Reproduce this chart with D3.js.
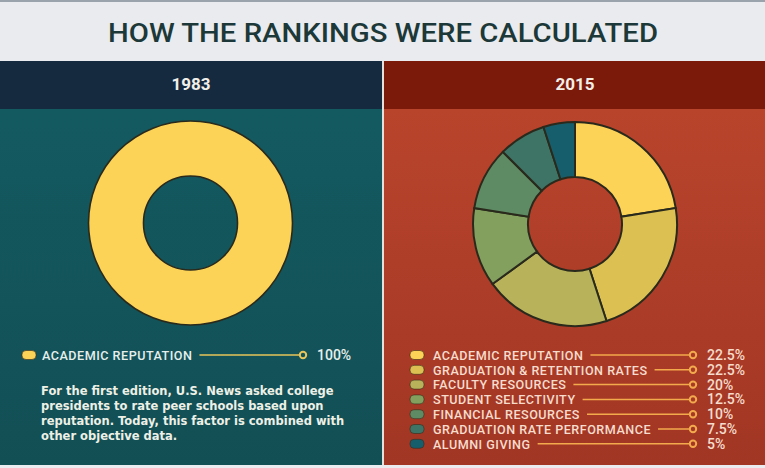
<!DOCTYPE html>
<html><head><meta charset="utf-8">
<script src="https://cdn.jsdelivr.net/npm/d3@7"></script>
<style>html,body{margin:0;padding:0;background:#e9ebee;}svg{display:block;}</style>
</head><body>
<svg id="c" width="765" height="468"></svg>
<script>
const title = "HOW THE RANKINGS WERE CALCULATED";
const years = ["1983", "2015"];
const cats1983 = ["ACADEMIC REPUTATION"];
const vals1983 = [100];
const labels1983 = ["100%"];
const cats2015 = ["ACADEMIC REPUTATION", "GRADUATION & RETENTION RATES", "FACULTY RESOURCES", "STUDENT SELECTIVITY", "FINANCIAL RESOURCES", "GRADUATION RATE PERFORMANCE", "ALUMNI GIVING"];
const vals2015 = [22.5, 22.5, 20, 12.5, 10, 7.5, 5];
const labels2015 = ["22.5%", "22.5%", "20%", "12.5%", "10%", "7.5%", "5%"];
const colors2015 = ["#fdd357", "#dcc152", "#b8b35b", "#83a05f", "#5e8b63", "#3e7466", "#175e6c"];
const note = ["For the first edition, U.S. News asked college", "presidents to rate peer schools based upon", "reputation. Today, this factor is combined with", "other objective data."];

const svg = d3.select("#c");
const defs = svg.append("defs");
const gL = defs.append("linearGradient").attr("id","gl").attr("x1",0).attr("y1",0).attr("x2",0).attr("y2",1);
gL.append("stop").attr("offset","0").attr("stop-color","#135a60");
gL.append("stop").attr("offset","1").attr("stop-color","#124f55");
const gR = defs.append("linearGradient").attr("id","gr").attr("x1",0).attr("y1",0).attr("x2",0).attr("y2",1);
gR.append("stop").attr("offset","0").attr("stop-color","#b9442c");
gR.append("stop").attr("offset","1").attr("stop-color","#a13624");

// backgrounds
svg.append("rect").attr("x",0).attr("y",0).attr("width",765).attr("height",468).attr("fill","#e9ebee");
svg.append("rect").attr("x",0).attr("y",0).attr("width",765).attr("height",2).attr("fill","#9aa3ab");
svg.append("rect").attr("x",0).attr("y",61).attr("width",382).attr("height",48).attr("fill","#162a3f");
svg.append("rect").attr("x",384).attr("y",61).attr("width",381).attr("height",48).attr("fill","#7b1a0b");
svg.append("rect").attr("x",0).attr("y",109).attr("width",382).attr("height",356).attr("fill","url(#gl)");
svg.append("rect").attr("x",384).attr("y",109).attr("width",381).attr("height",356).attr("fill","url(#gr)");
svg.append("rect").attr("x",382).attr("y",61).attr("width",2).attr("height",404).attr("fill","#e4e0dc");

svg.append("text").attr("x",383).attr("y",42).attr("text-anchor","middle")
  .attr("font-family","Roboto, 'Liberation Sans', sans-serif").attr("font-weight",500)
  .attr("font-size",26).attr("fill","#1c3838").attr("textLength",550).attr("lengthAdjust","spacingAndGlyphs")
  .text(title);

const yearX = [191, 575];
years.forEach((y,i)=>{
  svg.append("text").attr("x",yearX[i]).attr("y",90).attr("text-anchor","middle")
    .attr("font-family","Roboto, sans-serif").attr("font-weight",700).attr("font-size",17)
    .attr("fill","#f2efe9").text(y);
});

const pie = d3.pie().sort(null).value(d=>d);
const arc = d3.arc().innerRadius(47).outerRadius(102);

// left donut
const g1 = svg.append("g").attr("transform","translate(190.5,223)");
g1.selectAll("path").data(pie(vals1983)).join("path").attr("d",arc)
  .attr("fill","#fdd357").attr("stroke","#2a2a1c").attr("stroke-width",1.6);

// right donut
const g2 = svg.append("g").attr("transform","translate(575,224)");
g2.selectAll("path").data(pie(vals2015)).join("path").attr("d",arc)
  .attr("fill",(d,i)=>colors2015[i]).attr("stroke","#2a2a1c").attr("stroke-width",2);

function legend(x0, tx, yStart, dy, cats, labels, cols, textCol, lineCol, endX) {
  cats.forEach((c,i)=>{
    const y = yStart + i*dy;
    svg.append("rect").attr("x",x0).attr("y",y-4.5).attr("width",14).attr("height",9).attr("rx",4)
      .attr("fill",cols[i]).attr("stroke","#3a2a1a").attr("stroke-width",0.6);
    const t = svg.append("text").attr("x",tx).attr("y",y+4.8)
      .attr("font-family","Roboto, sans-serif").attr("font-weight",500).attr("font-size",12.6)
      .attr("letter-spacing",0.5).attr("fill",textCol).text(c);
    const w = t.node().getComputedTextLength();
    svg.append("line").attr("x1",tx+w+7).attr("x2",endX-3.5).attr("y1",y).attr("y2",y)
      .attr("stroke",lineCol).attr("stroke-width",1.5);
    svg.append("circle").attr("cx",endX).attr("cy",y).attr("r",3.2).attr("fill","none")
      .attr("stroke",lineCol).attr("stroke-width",2);
    svg.append("text").attr("x",endX+14).attr("y",y+5)
      .attr("font-family","Roboto, sans-serif").attr("font-weight",500).attr("font-size",14)
      .attr("fill",textCol).text(labels[i]);
  });
}
legend(22, 42, 355, 14.8, cats1983, labels1983, ["#fdd357"], "#e6efec", "#e8c45a", 303);
legend(410, 433, 355, 14.8, cats2015, labels2015, colors2015, "#f6dccd", "#f3aa4c", 693);

note.forEach((l,i)=>{
  svg.append("text").attr("x",41).attr("y",395+i*15)
    .attr("font-family","'DejaVu Sans', sans-serif").attr("font-weight",700).attr("font-size",11.5)
    .attr("fill","#eef0e6").text(l);
});
</script>
</body></html>
